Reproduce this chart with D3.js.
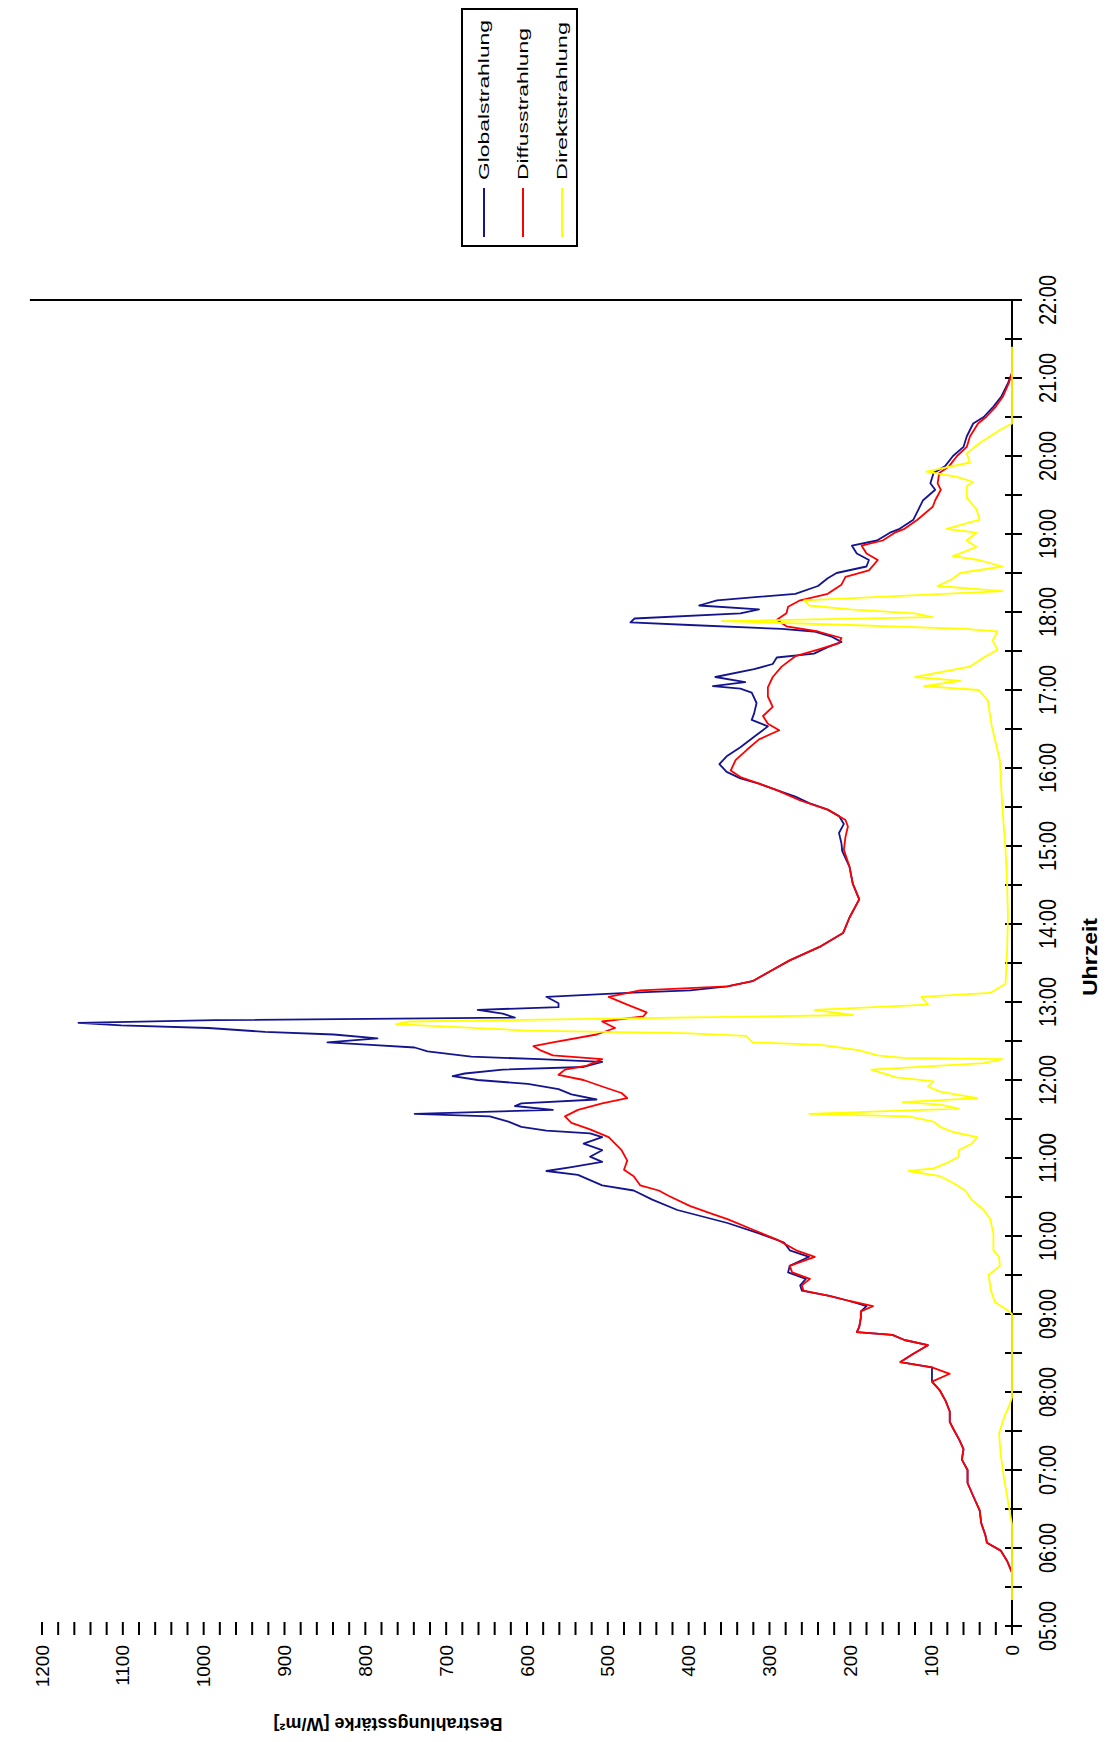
<!DOCTYPE html>
<html>
<head>
<meta charset="utf-8">
<script src="https://cdn.jsdelivr.net/npm/d3@7"></script>
<style>
    body { margin: 0; background: #fff; }
    svg { display: block; font-family: "Liberation Sans", Arial, sans-serif; }
</style>
</head>
<body>
<div id="chart"></div>
<script>
//Messwerte, Zeitpunkte als Uhrzeit
const globalTimes = [
    "05:41","05:50","05:58","06:04","06:10","06:19","06:29","06:40","06:50","07:00",
    "07:08","07:16","07:23","07:31","07:37","07:45","07:53","08:01","08:08","08:19",
    "08:23","08:29","08:36","08:40","08:44","08:46","08:50","08:57","09:02","09:06",
    "09:10","09:14","09:18","09:22","09:27","09:32","09:37","09:44","09:49","09:55",
    "10:02","10:10","10:15","10:20","10:28","10:35","10:39","10:43","10:47","10:50",
    "10:53","10:57","11:01","11:06","11:11","11:16","11:19","11:21","11:24","11:28",
    "11:32","11:34","11:37","11:40","11:42","11:45","11:49","11:53","11:57","12:00",
    "12:03","12:05","12:08","12:10","12:14","12:16","12:18","12:22","12:25","12:27",
    "12:29","12:32","12:35","12:37","12:40","12:42","12:44","12:46","12:48","12:51",
    "12:54","12:56","12:59","13:04","13:07","13:09","13:12","13:16","13:24","13:32",
    "13:43","13:53","14:05","14:19","14:31","14:44","14:56","15:02","15:10","15:17",
    "15:23","15:28","15:33","15:38","15:43","15:48","15:52","15:57","16:03","16:09",
    "16:16","16:24","16:32","16:37","16:42","16:50","16:58","17:01","17:03","17:06",
    "17:10","17:16","17:20","17:25","17:28","17:33","17:37","17:41","17:45","17:47",
    "17:50","17:52","17:55","17:59","18:02","18:05","18:09","18:14","18:20","18:26",
    "18:30","18:35","18:40","18:45","18:51","18:55","19:01","19:04","19:11","19:21",
    "19:26","19:34","19:39","19:47","19:52","20:00","20:07","20:15","20:25","20:30",
    "20:38","20:46","20:56","21:04"
];
const globalValues = [
    0, 6, 14, 31, 33, 38, 40, 48, 55, 55,
    62, 60, 65, 72, 77, 77, 82, 89, 99, 99,
    138, 123, 104, 133, 148, 192, 189, 187, 187, 180,
    201, 226, 260, 262, 255, 277, 275, 251, 275, 282,
    313, 352, 383, 414, 445, 468, 507, 522, 537, 576,
    545, 507, 522, 507, 530, 507, 522, 576, 607, 623,
    646, 739, 568, 615, 607, 514, 545, 561, 599, 661,
    692, 677, 630, 530, 507, 584, 669, 723, 739, 793,
    847, 785, 839, 924, 994, 1102, 1155, 986, 615, 630,
    661, 561, 561, 576, 476, 398, 352, 321, 298, 275,
    236, 209, 201, 189, 197, 201, 210, 211, 214, 208,
    214, 228, 251, 268, 291, 313, 336, 353, 362, 353,
    336, 319, 302, 322, 319, 316, 322, 336, 370, 330,
    367, 319, 296, 291, 245, 228, 211, 223, 245, 285,
    399, 472, 467, 336, 313, 387, 365, 268, 240, 228,
    217, 180, 177, 192, 198, 167, 151, 139, 122, 114,
    110, 95, 101, 97, 83, 73, 60, 56, 48, 35,
    23, 13, 5, 0
];

const diffusTimes = [
    "05:41","05:50","05:58","06:04","06:10","06:19","06:29","06:40","06:50","07:00",
    "07:08","07:16","07:23","07:31","07:37","07:45","07:53","08:01","08:08","08:14",
    "08:19","08:23","08:29","08:36","08:40","08:44","08:46","08:50","08:57","09:02",
    "09:06","09:10","09:14","09:18","09:22","09:27","09:32","09:37","09:44","09:49",
    "09:57","10:05","10:13","10:17","10:23","10:31","10:35","10:39","10:46","10:51",
    "10:58","11:06","11:11","11:16","11:22","11:27","11:32","11:37","11:42","11:46",
    "11:50","11:55","12:00","12:04","12:08","12:11","12:16","12:19","12:23","12:26",
    "12:29","12:35","12:40","12:45","12:49","12:52","12:58","13:04","13:09","13:12",
    "13:16","13:24","13:32","13:43","13:53","14:05","14:19","14:31","14:44","14:57",
    "15:07","15:15","15:20","15:28","15:35","15:43","15:48","15:53","15:58","16:06",
    "16:14","16:22","16:29","16:34","16:40","16:47","16:55","17:02","17:10","17:18",
    "17:26","17:31","17:36","17:40","17:45","17:49","17:54","17:59","18:04","18:09",
    "18:14","18:21","18:27","18:32","18:40","18:45","18:51","18:55","19:01","19:04",
    "19:11","19:21","19:26","19:34","19:39","19:47","19:52","20:00","20:07","20:15",
    "20:25","20:30","20:38","20:46","20:56","21:04"
];
const diffusValues = [
    0, 6, 14, 31, 33, 38, 40, 48, 55, 55,
    62, 60, 65, 72, 77, 77, 82, 89, 99, 77,
    99, 138, 123, 104, 133, 148, 192, 189, 187, 187,
    172, 201, 226, 258, 260, 250, 272, 275, 244, 267,
    290, 321, 352, 371, 398, 425, 437, 460, 468, 480,
    476, 483, 491, 499, 522, 545, 553, 537, 507, 476,
    483, 507, 530, 561, 553, 526, 507, 568, 584, 592,
    568, 514, 491, 507, 456, 452, 476, 499, 460, 352,
    321, 298, 275, 236, 209, 201, 189, 197, 201, 208,
    206, 203, 206, 228, 262, 291, 313, 336, 348, 342,
    328, 313, 288, 302, 308, 296, 302, 302, 296, 285,
    268, 240, 214, 211, 240, 279, 291, 279, 277, 262,
    228, 211, 206, 177, 166, 180, 186, 160, 145, 133,
    117, 98, 95, 88, 92, 90, 78, 68, 56, 52,
    42, 32, 20, 11, 4, 0
];

const direktTimes = [
    "05:20","06:18","06:36","06:54","07:12","07:28","07:42","07:50","07:56","09:00",
    "09:03","09:09","09:18","09:30","09:37","09:44","09:49","10:02","10:13","10:20",
    "10:28","10:35","10:41","10:46","10:50","10:52","10:56","11:01","11:06","11:11",
    "11:16","11:20","11:24","11:28","11:32","11:34","11:38","11:41","11:43","11:46",
    "11:51","11:55","11:59","12:02","12:08","12:13","12:16","12:17","12:19","12:23",
    "12:27","12:29","12:34","12:36","12:38","12:43","12:45","12:50","12:54","12:58",
    "13:04","13:07","13:14","13:40","14:06","14:31","14:57","15:30","16:06","16:32",
    "16:52","17:00","17:03","17:07","17:10","17:18","17:25","17:31","17:38","17:45",
    "17:47","17:50","17:53","17:56","17:59","18:02","18:05","18:09","18:16","18:20",
    "18:25","18:30","18:35","18:40","18:43","18:50","18:55","19:01","19:04","19:11",
    "19:19","19:28","19:37","19:40","19:44","19:48","19:55","20:02","20:10","20:20",
    "20:25","21:24"
];
const direktValues = [
    0, 0, 5, 10, 14, 16, 9, 3, 0, 0,
    6, 21, 26, 29, 15, 16, 23, 23, 27, 35,
    50, 58, 73, 89, 128, 97, 81, 66, 66, 50,
    43, 73, 89, 97, 128, 251, 66, 89, 135, 43,
    89, 104, 97, 143, 174, 35, 12, 135, 166, 190,
    236, 321, 329, 406, 599, 762, 746, 197, 244, 104,
    112, 27, 8, 6, 5, 6, 8, 12, 15, 25,
    30, 41, 109, 64, 120, 52, 35, 18, 24, 18,
    58, 200, 359, 98, 120, 200, 251, 257, 12, 92,
    75, 64, 12, 41, 73, 44, 56, 44, 81, 40,
    44, 56, 56, 48, 68, 106, 52, 56, 40, 15,
    0, 0
];

const seriesNames = ["Globalstrahlung", "Diffusstrahlung", "Direktstrahlung"];
const seriesColors = ["#14148f", "#ff0000", "#ffff00"];
const legendTextLength = [160, 152, 158];

const timeStart = "05:00";
const timeEnd = "22:00";
const valueMax = 1200;

//Seite und Diagramm (das Diagramm liegt um 90 Grad gedreht)
const pageWidth = 1116;
const pageHeight = 1742;

const svg = d3.select("#chart").append("svg")
    .attr("width", pageWidth).attr("height", pageHeight);

svg.append("rect")
    .attr("width", pageWidth).attr("height", pageHeight)
    .attr("fill", "#fff");

var g_root = svg.append("g")
    .attr("id", "g_root")
    .attr("transform", "translate(0," + pageHeight + ") rotate(-90)");

const parseTime = d3.timeParse("%H:%M");
const formatTime = d3.timeFormat("%H:%M");

const x = d3.scaleTime()
    .domain([parseTime(timeStart), parseTime(timeEnd)])
    .range([116, 1442]);

const y = d3.scaleLinear()
    .domain([0, valueMax])
    .range([1012, 42]);

const x0 = x(parseTime(timeStart));
const x1 = x(parseTime(timeEnd));

draw_axes();
draw_series();
draw_legend();

function draw_axes() {
    let axes = g_root.append("g").attr("id", "axes");

    //Zeitachse
    axes.append("line")
        .attr("x1", x0 - 7).attr("x2", x1)
        .attr("y1", y(0)).attr("y2", y(0))
        .attr("stroke", "#000").attr("stroke-width", 2);

    axes.selectAll(".x_tick")
        .data(x.ticks(d3.timeMinute.every(30)))
        .enter()
        .append("line")
        .attr("class", "x_tick")
        .attr("x1", d => x(d)).attr("x2", d => x(d))
        .attr("y1", y(0) - 7).attr("y2", y(0) + 10)
        .attr("stroke", "#000").attr("stroke-width", 2);

    axes.selectAll(".x_label")
        .data(x.ticks(d3.timeHour.every(1)))
        .enter()
        .append("text")
        .attr("class", "x_label")
        .attr("x", d => x(d))
        .attr("y", 1056)
        .attr("text-anchor", "middle")
        .attr("font-size", 24)
        .attr("textLength", 50)
        .attr("lengthAdjust", "spacingAndGlyphs")
        .text(d => formatTime(d));

    //Rahmenlinie bei 22:00
    axes.append("line")
        .attr("x1", x1).attr("x2", x1)
        .attr("y1", y(1215)).attr("y2", y(0) + 10)
        .attr("stroke", "#000").attr("stroke-width", 2);

    //Wertachse (nur Striche)
    axes.selectAll(".y_tick")
        .data(d3.range(0, valueMax + 1, 20))
        .enter()
        .append("line")
        .attr("class", "y_tick")
        .attr("x1", x0 - 9).attr("x2", x0 + 4)
        .attr("y1", d => y(d)).attr("y2", d => y(d))
        .attr("stroke", "#000").attr("stroke-width", 2);

    axes.selectAll(".y_label")
        .data(d3.range(0, valueMax + 1, 100))
        .enter()
        .append("text")
        .attr("class", "y_label")
        .attr("x", 97)
        .attr("y", d => y(d))
        .attr("dy", "0.35em")
        .attr("text-anchor", "end")
        .attr("font-size", 19)
        .text(d => d);

    //Achsentitel
    axes.append("text")
        .attr("x", (x0 + x1) / 2 + 6)
        .attr("y", 1097)
        .attr("text-anchor", "middle")
        .attr("font-size", 21)
        .attr("font-weight", "bold")
        .attr("textLength", 78)
        .attr("lengthAdjust", "spacingAndGlyphs")
        .text("Uhrzeit");

    axes.append("text")
        .attr("transform", "translate(24,388) rotate(-90)")
        .attr("text-anchor", "middle")
        .attr("font-size", 18)
        .attr("font-weight", "bold")
        .text("Bestrahlungsstärke [W/m²]");
}

function draw_series() {
    let allTimes = [globalTimes, diffusTimes, direktTimes];
    let allValues = [globalValues, diffusValues, direktValues];

    let line = d3.line()
        .x(d => x(d.time))
        .y(d => y(d.value));

    let lines = g_root.append("g").attr("id", "series");

    seriesNames.forEach(function (name, i) {
        let points = allTimes[i].map((t, k) => ({time: parseTime(t), value: allValues[i][k]}));
        lines.append("path")
            .datum(points)
            .attr("class", "series")
            .attr("fill", "none")
            .attr("stroke", seriesColors[i])
            .attr("stroke-width", 1.8)
            .attr("stroke-linejoin", "round")
            .attr("d", line);
    });
}

function draw_legend() {
    let legend = g_root.append("g")
        .attr("id", "legend")
        .attr("transform", "translate(1496,462)");

    legend.append("rect")
        .attr("width", 237).attr("height", 115)
        .attr("fill", "#fff")
        .attr("stroke", "#000").attr("stroke-width", 2);

    let items = legend.selectAll(".legend_item")
        .data(seriesNames)
        .enter()
        .append("g")
        .attr("class", "legend_item")
        .attr("transform", (d, i) => "translate(0," + (22 + i * 39) + ")");

    items.append("line")
        .attr("x1", 9).attr("x2", 58)
        .attr("stroke", (d, i) => seriesColors[i])
        .attr("stroke-width", 2);

    items.append("text")
        .attr("x", 66)
        .attr("dy", "0.35em")
        .attr("font-size", 14)
        .attr("textLength", (d, i) => legendTextLength[i])
        .attr("lengthAdjust", "spacingAndGlyphs")
        .text(d => d);
}
</script>
</body>
</html>
